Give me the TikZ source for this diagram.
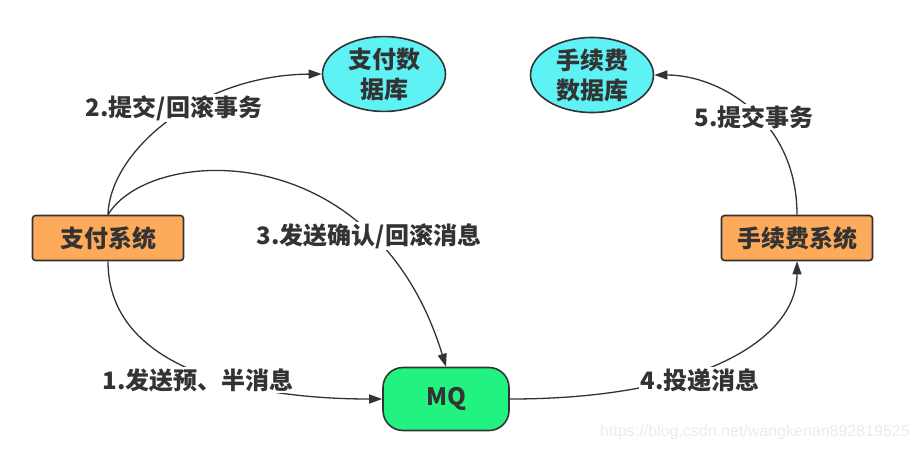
\documentclass[tikz,border=0pt]{standalone}
\usepackage{fontspec}
\setmainfont{Noto Sans CJK SC}
\newfontfamily\wmfont{Liberation Sans}
\usetikzlibrary{arrows.meta,shapes.geometric,shapes.misc}
\definecolor{sysorange}{HTML}{FDAB5A}
\definecolor{dbcyan}{HTML}{5EF2F5}
\definecolor{mqgreen}{HTML}{22F27F}
\definecolor{edgegray}{HTML}{333333}
\tikzset{
  txt/.style={font=\bfseries\fontsize{24}{26}\selectfont, text=edgegray},
  sysbox/.style={txt, draw=edgegray, line width=1.6pt, fill=sysorange, rounded corners=3pt,
    minimum width=151pt, minimum height=45pt, inner sep=0pt},
  dbell/.style={draw=edgegray, line width=1.6pt, fill=dbcyan, ellipse,
    minimum width=123pt, minimum height=68pt, inner sep=0pt, align=center,
    font=\bfseries\fontsize{24}{30}\selectfont, text=edgegray},
  mqbox/.style={txt, draw=edgegray, line width=1.6pt, fill=mqgreen, rounded corners=20pt,
    minimum width=126pt, minimum height=63pt, inner sep=0pt},
  conn/.style={draw=edgegray, line width=1.3pt},
  arr/.style={conn, -{Triangle[length=13pt,width=9pt]}},
  lbl/.style={txt, fill=white, inner sep=1pt},
}
\begin{document}
\begin{tikzpicture}[x=1pt,y=-1pt]
\useasboundingbox (0,0) rectangle (921,451);
\node[sysbox] (pay) at (108,238) {支付系统};
\node[sysbox] (fee) at (797,238) {手续费系统};
\node[dbell] (paydb) at (384,74) {支付数\\据库};
\node[dbell] (feedb) at (592,75) {手续费\\数据库};
\node[mqbox] (mq) at (446,399) {MQ};
\coordinate (payN) at (pay.north);
\draw[arr] (payN) .. controls (110,150) and (200,75) .. (paydb.west);
\draw[arr] (payN) .. controls (150,145) and (375,135) .. (mq.north);
\draw[arr] (pay.south) .. controls (108,370) and (250,399) .. (mq.west);
\draw[arr] (mq.east) .. controls (700,399) and (797,340) .. (fee.south);
\draw[arr] (fee.north) .. controls (797,120) and (720,75) .. (feedb.east);
\node[lbl] (l2) at (174,108) {2.提交/回滚事务};
\node[lbl] (l3) at (369,236) {3.发送确认/回滚消息};
\node[lbl] (l1) at (198,380) {1.发送预、半消息};
\node[lbl] (l4) at (700,380) {4.投递消息};
\node[lbl] (l5) at (754,117) {5.提交事务};
\node[text=black!8, font=\wmfont\fontsize{16}{18}\selectfont, anchor=east, inner sep=0pt] (wm) at (910,432) {https://blog.csdn.net/wangkenan892819525};
\end{tikzpicture}
\end{document}
